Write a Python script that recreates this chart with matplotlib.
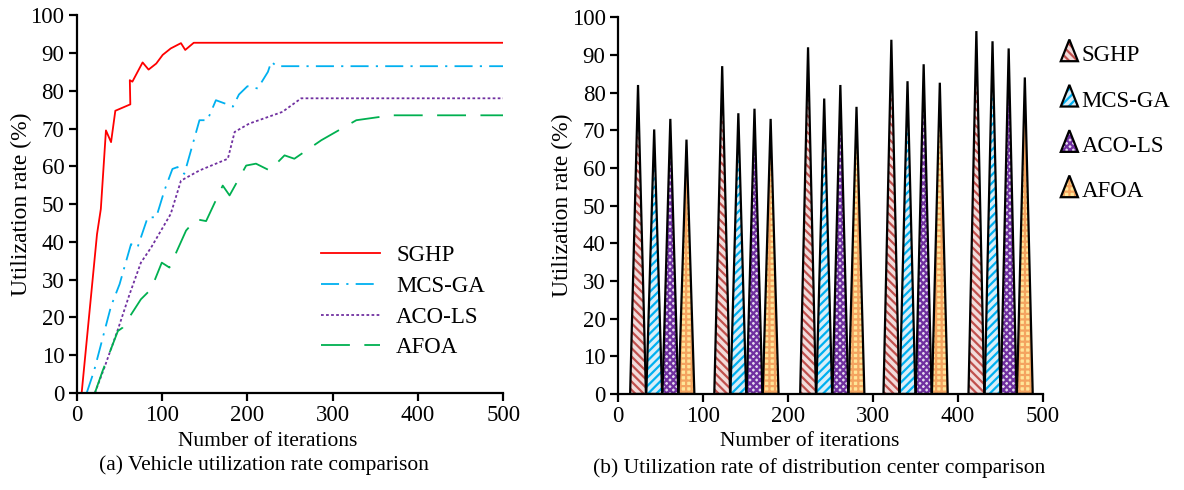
import matplotlib
matplotlib.use("Agg")
import matplotlib.pyplot as plt
import matplotlib.patches as mpatches
from matplotlib.legend_handler import HandlerPatch, HandlerTuple

plt.rcParams['font.family'] = ['Liberation Serif', 'DejaVu Serif']
plt.rcParams['hatch.linewidth'] = 1.6

# (a) vehicle utilization rate vs iterations
sghp_x = [5.5, 23.5, 28, 34, 40, 45, 62.6, 62, 65, 77, 84, 93, 100.6, 110, 122, 127, 137, 500]
sghp_y = [0, 42, 48.7, 69.5, 66.4, 74.7, 76.4, 82.8, 82.4, 87.5, 85.6, 87.2, 89.5, 91.2, 92.6, 90.8, 92.7, 92.7]

mcs_x = [11.4, 20, 40, 50, 63.4, 71, 83, 93, 102.6, 112, 118, 126, 143.7, 153, 163, 175, 183, 190, 200, 212, 224, 228, 234, 500]
mcs_y = [0, 5.8, 23, 28.8, 39.4, 38.5, 46.5, 46.5, 53.6, 59.3, 59.8, 58, 72.2, 72.2, 77.5, 76.5, 75.8, 79, 81.2, 80.6, 85, 87.7, 86.5, 86.5]

aco_x = [21, 32, 48, 61.5, 75, 87, 110, 116, 122, 143.7, 177, 185, 202, 241, 263, 500]
aco_y = [0, 6.6, 16.8, 26, 34.5, 38.5, 47.4, 51.8, 56.2, 58.9, 62, 69.1, 71.3, 74.4, 78, 78]

afoa_x = [21, 30, 48, 53.6, 75, 87, 99.5, 108.5, 128, 139.7, 151.5, 171, 179, 198.5, 210, 226, 243.5, 255, 286.6, 327.7, 368.8, 500]
afoa_y = [0, 5.8, 16.4, 17.3, 24.8, 27.5, 34.5, 33.2, 43, 46, 45.5, 54.9, 52.3, 60.2, 60.7, 58.9, 62.9, 62, 66.9, 72.2, 73.5, 73.5]

# (b) distribution center utilization rate
dc_centers = [52, 151, 252, 350, 450]
sghp_dc = [82, 87, 92, 94, 96.3]
mcs_dc = [70.2, 74.5, 78.4, 83, 93.6]
aco_dc = [73, 75.7, 82, 87.5, 91.7]
afoa_dc = [67.5, 73, 76.2, 82.6, 84]

methods = ['SGHP', 'MCS-GA', 'ACO-LS', 'AFOA']
line_colors = ['#ff0000', '#00b0f0', '#7030a0', '#00b050']
line_styles = ['-', (0, (10, 4, 1.2, 4)), (0, (1.5, 1.3)), (0, (16, 8))]
fill_colors = ['#f2dcdb', '#daeef8', '#e4dcee', '#ffe699']
hatch_colors = ['#c0504d', '#00b0f0', '#7030a0', '#f4a460']
hatches = ['\\\\\\\\', '////', 'xxxxx', '+++']

tick_fs = 16.5
label_fs = 15.5
ylabel_fs = 17


def style_axes(ax):
    for s in ['top', 'right']:
        ax.spines[s].set_visible(False)
    for s in ['left', 'bottom']:
        ax.spines[s].set_linewidth(1.6)
    ax.tick_params(direction='out', length=6, width=1.6, labelsize=tick_fs, pad=3)
    ax.set_xlim(0, 500)
    ax.set_ylim(0, 100)
    ax.set_xticks(range(0, 501, 100))
    ax.set_yticks(range(0, 101, 10))
    ax.set_ylabel('Utilization rate (%)', fontsize=ylabel_fs, labelpad=-1)


def triangle(legend, orig_handle, xdescent, ydescent, width, height, fontsize):
    return mpatches.Polygon([[-xdescent, -ydescent], [-xdescent + width, -ydescent],
                             [-xdescent + width / 2, -ydescent + height * 1.35]], closed=True)


fig = plt.figure(figsize=(11.84, 4.9), dpi=100)
ax1 = fig.add_axes([0.065, 0.198, 0.360, 0.771])
ax2 = fig.add_axes([0.522, 0.196, 0.359, 0.769])

# left panel
series = [(sghp_x, sghp_y), (mcs_x, mcs_y), (aco_x, aco_y), (afoa_x, afoa_y)]
for (xs, ys), name, c, ls in zip(series, methods, line_colors, line_styles):
    ax1.plot(xs, ys, color=c, linestyle=ls, lw=1.3, label=name)
style_axes(ax1)
ax1.legend(loc='upper left', bbox_to_anchor=(0.55, 0.415), frameon=False, fontsize=16.5,
           handlelength=2.6, labelspacing=0.42, handletextpad=0.7, borderaxespad=0)

# right panel
dc_values = [sghp_dc, mcs_dc, aco_dc, afoa_dc]
step = 19
half = 9.3
handles = []
for i, (vals, name) in enumerate(zip(dc_values, methods)):
    for c, h in zip(dc_centers, vals):
        xc = c + (i - 1.5) * step
        xs = [xc - half, xc + half, xc]
        ys = [0, 0, h]
        ax2.fill(xs, ys, facecolor=fill_colors[i], edgecolor=hatch_colors[i],
                 hatch=hatches[i], lw=0, zorder=2)
        ax2.fill(xs, ys, fill=False, edgecolor='black', lw=1.6, zorder=3)
    p_fill = mpatches.Polygon([[0, 0]], facecolor=fill_colors[i], edgecolor=hatch_colors[i],
                              hatch=hatches[i], lw=0)
    p_edge = mpatches.Polygon([[0, 0]], fill=False, edgecolor='black', lw=1.6)
    handles.append((p_fill, p_edge))
style_axes(ax2)
ax2.legend(handles, methods, loc='upper left', bbox_to_anchor=(1.02, 0.95), frameon=False,
           fontsize=16.5, handlelength=0.75, handleheight=0.7, labelspacing=1.06,
           handletextpad=0.15, borderaxespad=0,
           handler_map={tuple: HandlerTuple(ndivide=1, pad=0),
                        mpatches.Polygon: HandlerPatch(patch_func=triangle)})

# axis titles below
fig.text(0.226, 0.1, 'Number of iterations', ha='center', va='center', fontsize=label_fs)
fig.text(0.223, 0.051, '(a) Vehicle utilization rate comparison', ha='center', va='center', fontsize=label_fs)
fig.text(0.684, 0.1, 'Number of iterations', ha='center', va='center', fontsize=label_fs)
fig.text(0.692, 0.045, '(b) Utilization rate of distribution center comparison', ha='center', va='center', fontsize=label_fs)

fig.savefig('out.png', dpi=100)
